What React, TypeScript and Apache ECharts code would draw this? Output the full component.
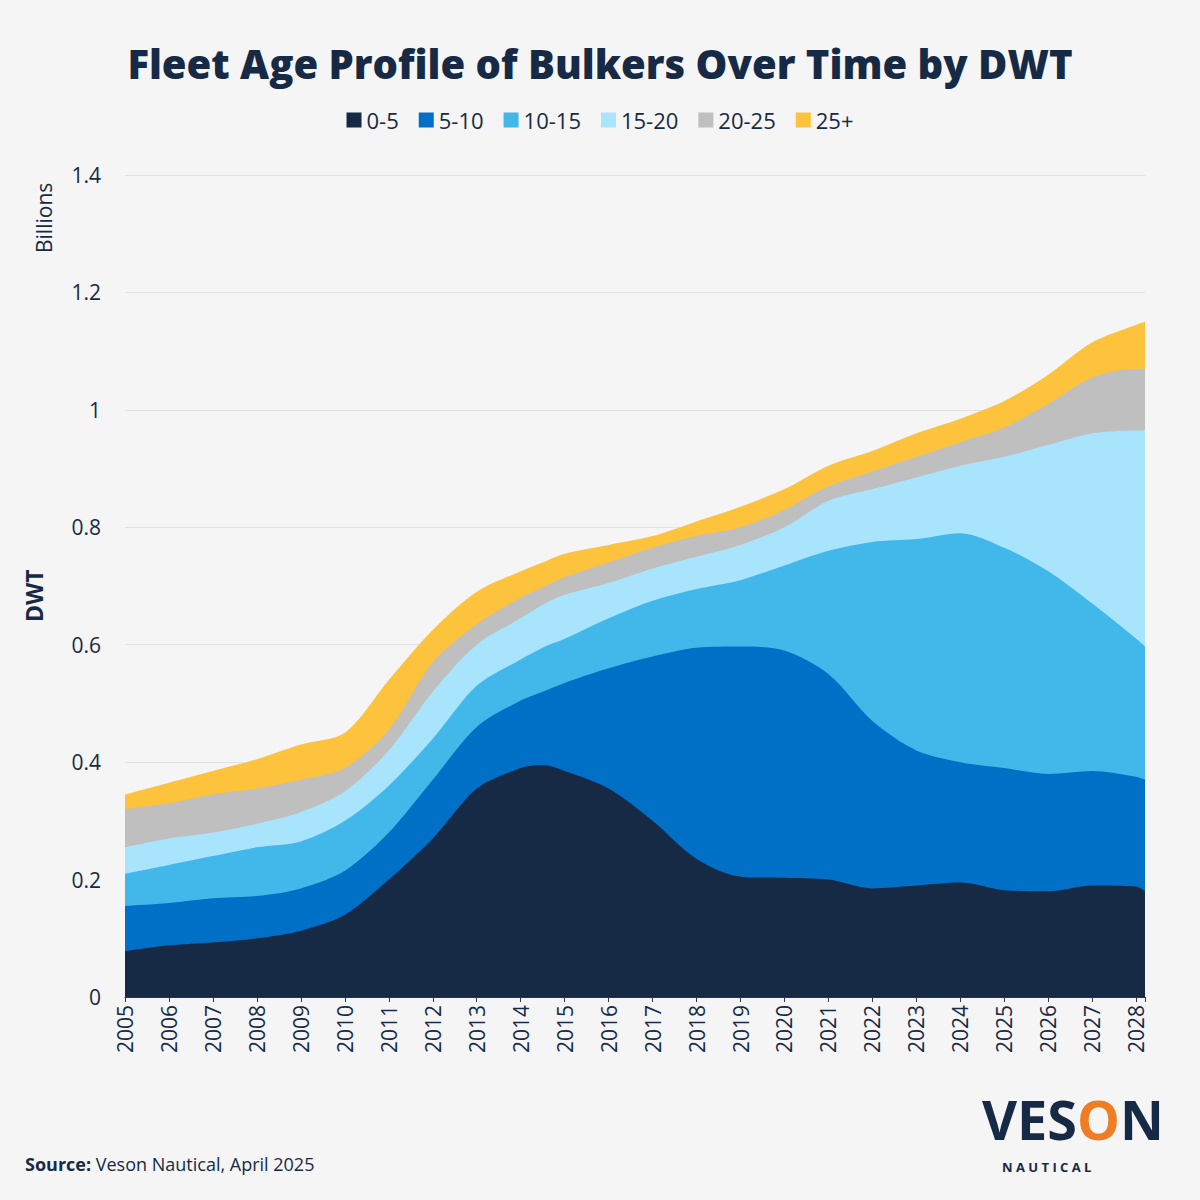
import React, { useEffect, useRef } from 'react';
import * as echarts from 'echarts';

// sample positions (years), last one is the right edge of the data
const years = [2005, 2006, 2007, 2008, 2009, 2010, 2011, 2012, 2013, 2014, 2014.5, 2015, 2016, 2017, 2018, 2019, 2020, 2021, 2022, 2023, 2024, 2025, 2026, 2027, 2028, 2028.2];

// cumulative top of each band (billions DWT)
const top0to5 = [0.078, 0.088, 0.093, 0.1, 0.113, 0.14, 0.2, 0.27, 0.355, 0.39, 0.395, 0.385, 0.355, 0.3, 0.235, 0.205, 0.203, 0.2, 0.185, 0.19, 0.195, 0.182, 0.18, 0.19, 0.188, 0.18];
const top5to10 = [0.155, 0.16, 0.168, 0.172, 0.185, 0.215, 0.28, 0.37, 0.46, 0.505, 0.52, 0.535, 0.56, 0.58, 0.595, 0.597, 0.59, 0.55, 0.47, 0.42, 0.4, 0.39, 0.38, 0.385, 0.375, 0.37];
const top10to15 = [0.21, 0.225, 0.24, 0.255, 0.265, 0.3, 0.36, 0.44, 0.53, 0.575, 0.595, 0.61, 0.645, 0.675, 0.695, 0.71, 0.735, 0.76, 0.775, 0.78, 0.79, 0.765, 0.725, 0.67, 0.61, 0.597];
const top15to20 = [0.255, 0.27, 0.28, 0.295, 0.315, 0.35, 0.42, 0.52, 0.6, 0.645, 0.668, 0.685, 0.705, 0.73, 0.75, 0.77, 0.8, 0.845, 0.865, 0.885, 0.905, 0.92, 0.94, 0.96, 0.965, 0.965];
const top20to25 = [0.32, 0.33, 0.345, 0.355, 0.37, 0.39, 0.455, 0.57, 0.635, 0.68, 0.698, 0.715, 0.74, 0.765, 0.785, 0.8, 0.83, 0.87, 0.895, 0.92, 0.945, 0.97, 1.01, 1.055, 1.07, 1.07];
const top25plus = [0.345, 0.365, 0.385, 0.405, 0.43, 0.45, 0.54, 0.625, 0.69, 0.725, 0.74, 0.755, 0.77, 0.785, 0.81, 0.835, 0.865, 0.905, 0.93, 0.96, 0.985, 1.015, 1.06, 1.115, 1.145, 1.15];

const seriesNames = ['0-5', '5-10', '10-15', '15-20', '20-25', '25+'];
const colors = ['#172a45', '#0070c6', '#42b8ea', '#a8e4fb', '#bfbfbf', '#fdc33c'];

const App: React.FC = () => {
  const chartRef = useRef<HTMLDivElement>(null);

  useEffect(() => {
    if (!chartRef.current) return;
    document.body.style.margin = '0';
    const chart = echarts.init(chartRef.current, null, { renderer: 'svg' });

    const tops = [top0to5, top5to10, top10to15, top15to20, top20to25, top25plus];
    const font = 'Open Sans';
    const navy = '#172a45';

    // each band is drawn as area from 0 up to its cumulative top, tallest first so lower bands cover it
    const series = tops
      .map((t, i) => ({
        name: seriesNames[i],
        type: 'line',
        smooth: 0.3,
        symbol: 'none',
        lineStyle: { width: 0 },
        itemStyle: { color: colors[i] },
        areaStyle: { color: colors[i], opacity: 1 },
        data: t.map((v, j) => [years[j], v]),
      }))
      .reverse();

    chart.setOption({
      animation: false,
      backgroundColor: '#f5f5f5',
      textStyle: { fontFamily: font },
      title: {
        text: 'Fleet Age Profile of Bulkers Over Time by DWT',
        left: 'center',
        top: 38,
        textStyle: { fontSize: 40, fontWeight: 800, color: navy, fontFamily: font },
      },
      legend: {
        top: 104,
        left: 'center',
        itemWidth: 15,
        itemHeight: 15,
        itemGap: 20,
        icon: 'rect',
        textStyle: { fontSize: 22, color: navy },
        data: seriesNames,
      },
      grid: { left: 125, right: 55, top: 175, bottom: 203 },
      xAxis: {
        type: 'value',
        min: 2005,
        max: 2028.2,
        interval: 1,
        axisLine: { show: true, lineStyle: { color: '#333' } },
        axisTick: { show: true, lineStyle: { color: '#333' } },
        splitLine: { show: false },
        axisLabel: { rotate: 90, fontSize: 21, color: navy, formatter: (v: number) => (Number.isInteger(v) ? String(v) : '') },
      },
      yAxis: {
        type: 'value',
        min: 0,
        max: 1.4,
        interval: 0.2,
        axisLine: { show: false },
        axisTick: { show: false },
        axisLabel: { fontSize: 21, color: navy, margin: 24 },
        splitLine: { lineStyle: { color: '#e2e2e2' } },
      },
      graphic: [
        { type: 'text', x: 33, y: 253, rotation: Math.PI / 2, style: { text: 'Billions', fontSize: 21, fill: navy, fontFamily: font } },
        { type: 'text', x: 22, y: 622, rotation: Math.PI / 2, style: { text: 'DWT', fontSize: 23, fontWeight: 'bold', fill: navy, fontFamily: font } },
        {
          type: 'text', x: 25, y: 1155,
          style: { text: '{b|Source:} Veson Nautical, April 2025', fontSize: 18, fill: navy, fontFamily: font, rich: { b: { fontWeight: 'bold', fontSize: 18, fill: navy, fontFamily: font } } },
        },
        {
          type: 'text', x: 982, y: 1092,
          style: {
            text: 'VES{o|O}N', fontSize: 54, lineHeight: 54, fontWeight: 'bold', fill: navy, fontFamily: font,
            rich: { o: { fontSize: 54, lineHeight: 54, fontWeight: 'bold', fill: '#ee7d23', fontFamily: font } },
          },
        },
        { type: 'text', x: 1002, y: 1160, style: { text: 'N A U T I C A L', fontSize: 13, fontWeight: 'bold', fill: navy, fontFamily: font } },
      ],
      series,
    });

    return () => chart.dispose();
  }, []);

  return <div ref={chartRef} style={{ width: 1200, height: 1200 }} />;
};

export default App;
